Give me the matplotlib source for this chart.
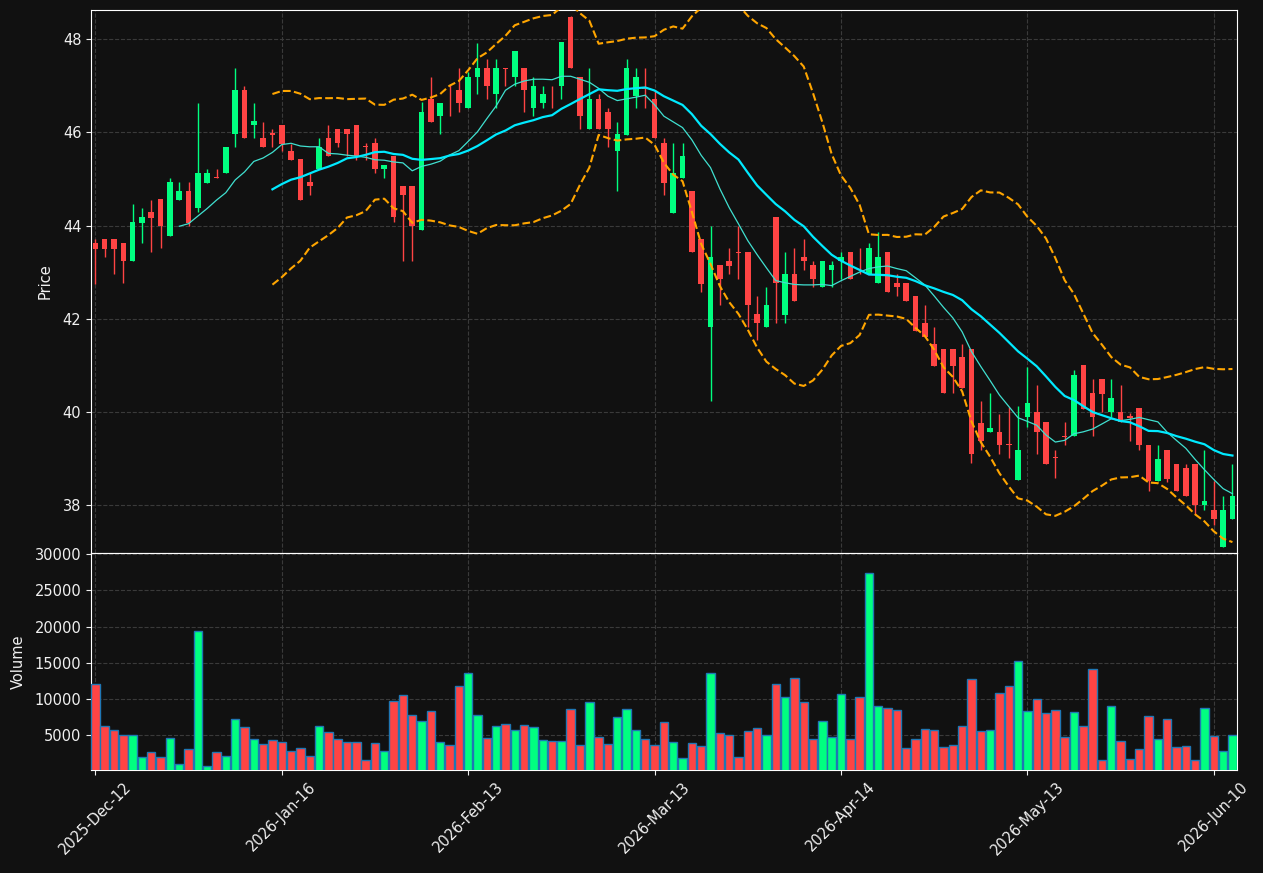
import matplotlib
matplotlib.use("Agg")
import matplotlib.pyplot as plt
import numpy as np
import pandas as pd

# ---- data ----
opens = [43.63, 43.72, 43.72, 43.63, 43.23, 44.06, 44.28, 44.56, 43.78, 44.54,
         44.75, 44.37, 44.92, 45.04, 45.12, 45.96, 46.91, 46.15, 45.88, 45.98,
         46.15, 45.59, 45.42, 44.94, 45.21, 45.88, 46.08, 46.08, 46.15, 45.70,
         45.78, 45.21, 45.50, 44.84, 44.84, 43.90, 46.72, 46.35, 46.82, 46.91,
         46.51, 47.18, 47.37, 46.82, 47.37, 47.18, 47.37, 46.51, 46.62, 46.53,
         46.99, 48.47, 47.19, 46.06, 46.72, 46.44, 45.59, 45.94, 46.78, 46.95,
         46.72, 45.77, 44.26, 45.02, 44.75, 43.72, 41.82, 43.16, 43.24, 43.44,
         43.43, 42.11, 41.82, 44.19, 42.09, 42.97, 43.33, 43.16, 42.68, 43.04,
         43.24, 43.43, 43.25, 42.97, 42.76, 43.43, 42.77, 42.77, 42.49, 41.92,
         41.45, 41.36, 41.36, 41.18, 41.36, 39.77, 39.57, 39.57, 39.31, 38.54,
         39.89, 40.00, 39.79, 39.03, 39.48, 39.49, 41.00, 40.40, 40.70, 40.00,
         40.00, 39.91, 40.08, 39.30, 38.52, 39.19, 38.88, 38.81, 38.88, 38.00,
         37.91, 37.10, 37.71]
highs = [43.71, 43.72, 43.72, 43.63, 44.46, 44.37, 44.55, 44.56, 45.02, 44.94,
         44.94, 46.62, 45.21, 45.21, 45.68, 47.37, 46.99, 46.62, 46.23, 46.06,
         46.15, 45.75, 45.42, 45.12, 45.88, 46.15, 46.08, 46.08, 46.15, 45.78,
         45.88, 45.30, 45.50, 44.84, 44.84, 46.64, 47.19, 46.62, 47.01, 47.37,
         47.29, 47.92, 47.57, 47.57, 47.38, 47.75, 47.37, 47.18, 46.99, 46.99,
         47.93, 48.50, 47.19, 47.37, 46.82, 46.53, 46.23, 47.56, 47.37, 47.37,
         46.90, 45.88, 45.77, 45.77, 44.75, 43.72, 43.99, 43.16, 43.51, 43.99,
         43.43, 42.49, 42.68, 44.19, 43.43, 43.51, 43.71, 43.24, 43.25, 43.24,
         43.43, 43.43, 43.51, 43.62, 43.87, 43.43, 42.96, 42.77, 42.49, 42.30,
         41.82, 41.36, 41.36, 41.45, 41.36, 40.24, 40.41, 39.96, 40.10, 40.13,
         40.97, 40.59, 39.79, 39.18, 39.79, 40.91, 41.00, 40.70, 40.70, 40.70,
         40.59, 39.97, 40.08, 39.30, 39.29, 39.19, 38.88, 38.88, 38.88, 39.18,
         38.52, 38.20, 38.88]
lows = [42.75, 43.32, 42.96, 42.76, 43.23, 43.62, 43.43, 43.51, 43.78, 44.54,
        43.99, 44.28, 44.92, 45.02, 45.12, 45.68, 45.88, 45.88, 45.68, 45.68,
        45.59, 45.40, 44.55, 44.65, 45.21, 45.49, 45.69, 45.49, 45.40, 45.40,
        45.12, 45.02, 44.08, 43.24, 43.24, 43.90, 46.23, 45.97, 46.35, 46.43,
        46.51, 46.82, 46.71, 46.53, 46.99, 46.99, 46.43, 46.35, 46.51, 46.51,
        46.71, 47.37, 46.06, 46.06, 46.06, 45.68, 44.74, 45.94, 46.52, 46.52,
        45.88, 44.65, 44.26, 45.02, 43.43, 42.58, 40.24, 42.30, 42.96, 42.85,
        41.82, 41.55, 41.82, 41.92, 41.92, 42.39, 43.05, 42.68, 42.68, 42.68,
        42.85, 42.85, 42.96, 42.97, 42.76, 42.57, 42.49, 42.39, 41.73, 41.62,
        40.98, 40.41, 40.41, 40.51, 38.91, 39.19, 39.57, 39.10, 39.02, 38.54,
        39.68, 39.10, 38.88, 38.59, 39.29, 39.49, 40.07, 39.49, 40.00, 39.89,
        39.79, 39.39, 39.19, 38.31, 38.52, 38.50, 38.31, 38.20, 37.82, 37.91,
        37.59, 37.10, 37.71]
closes = [43.50, 43.50, 43.50, 43.23, 44.08, 44.19, 44.17, 43.98, 44.94, 44.75,
          44.06, 45.13, 45.13, 45.02, 45.68, 46.91, 45.88, 46.24, 45.68, 45.95,
          45.74, 45.40, 44.55, 44.85, 45.69, 45.49, 45.76, 45.97, 45.49, 45.69,
          45.21, 45.30, 44.18, 44.65, 43.99, 46.44, 46.23, 46.62, 46.81, 46.62,
          47.19, 47.37, 46.99, 47.37, 47.36, 47.75, 46.90, 47.00, 46.82, 46.51,
          47.93, 47.37, 46.35, 46.72, 46.06, 46.06, 45.97, 47.37, 47.18, 46.93,
          45.88, 44.92, 45.13, 45.50, 43.43, 42.75, 43.33, 42.85, 43.14, 43.42,
          42.29, 41.92, 42.30, 42.76, 42.97, 42.39, 43.23, 42.85, 43.25, 43.16,
          43.33, 42.85, 43.23, 43.52, 43.33, 42.57, 42.68, 42.39, 41.73, 41.62,
          40.98, 40.41, 40.98, 40.51, 39.10, 39.38, 39.66, 39.29, 39.29, 39.19,
          40.20, 39.58, 38.88, 39.01, 39.46, 40.80, 40.07, 39.89, 40.38, 40.30,
          39.79, 39.87, 39.29, 38.52, 39.00, 38.57, 38.31, 38.20, 38.00, 38.09,
          37.70, 37.91, 38.21]
volumes = [12050, 6330, 5720, 5120, 5120, 2090, 2760, 2020, 4710, 1010,
           3170, 19330, 810, 2760, 2220, 7200, 6200, 4580, 3770, 4440,
           4110, 2900, 3300, 2220, 6330, 5520, 4580, 4110, 4110, 1620,
           3970, 2900, 9760, 10570, 7810, 6940, 8420, 4110, 3640, 11790,
           13540, 7880, 4650, 6260, 6530, 5720, 6400, 6130, 4380, 4240,
           4240, 8690, 3640, 9560, 4780, 3840, 7540, 8690, 5720, 4510,
           3640, 6800, 4110, 1890, 3970, 3500, 13540, 5390, 5120, 2090,
           5590, 6060, 5120, 12050, 10240, 12860, 9630, 4510, 6940, 4850,
           10770, 4510, 10240, 27400, 9090, 8820, 8550, 3300, 4580, 5930,
           5790, 3430, 3640, 6330, 12730, 5590, 5720, 10910, 11850, 15220,
           8420, 9970, 8150, 8550, 4780, 8280, 6330, 14210, 1550, 9090,
           4180, 1820, 3170, 7740, 4580, 7200, 3430, 3570, 1680, 8750,
           4980, 2900, 5120]
tick_labels = ["2025-Dec-12", "2026-Jan-16", "2026-Feb-13", "2026-Mar-13",
               "2026-Apr-14", "2026-May-13", "2026-Jun-10"]
tick_step = 20

bg = "#111111"
up_c = "#00ff80"
down_c = "#ff4444"
fg = "#f0f0f0"

df = pd.DataFrame({"o": opens, "h": highs, "l": lows, "c": closes, "v": volumes})
x = np.arange(len(df))
ma10 = df["c"].rolling(10).mean()
ma20 = df["c"].rolling(20).mean()
sd20 = df["c"].rolling(20).std(ddof=0)
bb_up = ma20 + 2 * sd20
bb_lo = ma20 - 2 * sd20

up = df["c"] >= df["o"]
colors = np.where(up, up_c, down_c)

fig = plt.figure(figsize=(12.63, 8.73), dpi=100, facecolor=bg)
ax = fig.add_axes([0.0721, 0.3666, 0.9074, 0.6219], facecolor=bg)
axv = fig.add_axes([0.0721, 0.1180, 0.9074, 0.2486], facecolor=bg, sharex=ax)

# candles: wicks then bodies
ax.vlines(x, df["l"], df["h"], colors=colors, linewidth=1, zorder=2)
body_lo = np.minimum(df["o"], df["c"])
body_h = np.maximum(np.abs(df["c"] - df["o"]), 0.02)
ax.bar(x, body_h, bottom=body_lo, width=0.6, color=colors, linewidth=0, zorder=3)

# moving averages + bollinger bands
ax.plot(x, ma10, color="#40e0d0", linewidth=0.9, zorder=4)
ax.plot(x, ma20, color="#00eaff", linewidth=1.6, zorder=4)
ax.plot(x, bb_up, color="orange", linestyle="--", linewidth=1.5, zorder=4)
ax.plot(x, bb_lo, color="orange", linestyle="--", linewidth=1.5, zorder=4)

ax.set_xlim(-0.46, 122.5)
ax.set_ylim(36.98, 48.62)
ax.set_yticks([38, 40, 42, 44, 46, 48])
ax.set_ylabel("Price", color=fg, fontsize=10.5, labelpad=7)

# volume panel
axv.bar(x, df["v"], width=0.9, color=colors, edgecolor="#1f77b4", linewidth=1, zorder=3)
axv.set_ylim(0.3 * df["v"].min(), 1.1 * df["v"].max())
axv.set_yticks([5000, 10000, 15000, 20000, 25000, 30000])
axv.set_ylabel("Volume", color=fg, fontsize=10.5, labelpad=6)

ticks = x[::tick_step]
axv.set_xticks(ticks)
axv.set_xticklabels(tick_labels, rotation=45)
plt.setp(ax.get_xticklabels(), visible=False)
ax.tick_params(axis="x", length=0)

for a in (ax, axv):
    a.grid(True, color="#3a3a3a", linestyle="--", linewidth=0.8, zorder=0)
    a.set_axisbelow(True)
    a.tick_params(colors=fg, labelsize=10.5)
    for s in a.spines.values():
        s.set_color("white")

fig.savefig("out.png", dpi=100, facecolor=bg)
